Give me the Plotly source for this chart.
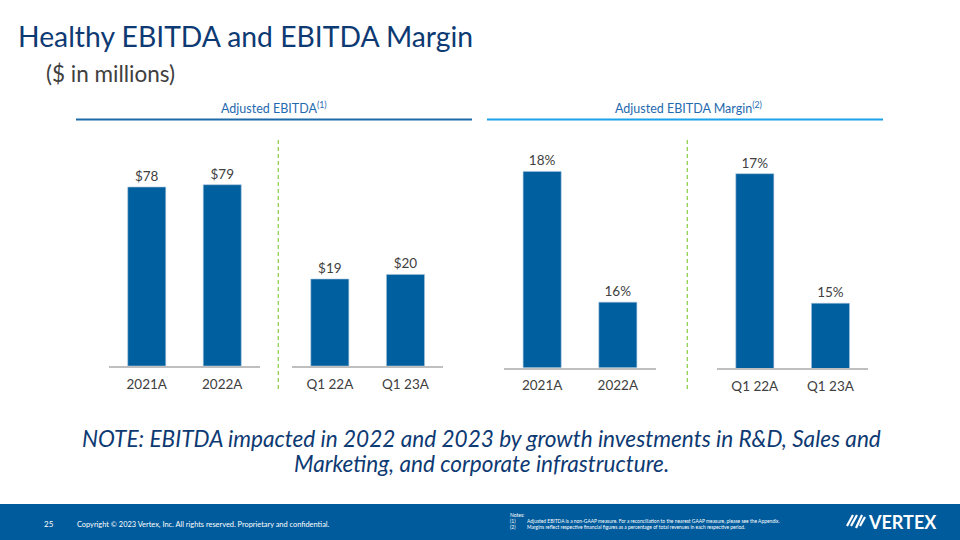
import plotly.graph_objects as go

# ---- data ----
annual_years = ["2021A", "2022A"]
quarters = ["Q1 22A", "Q1 23A"]
ebitda_annual = [78, 79]
ebitda_quarter = [19, 20]
margin_annual = [18, 16]
margin_quarter = [17, 15]

W, H = 960, 540
BAR = "#005F9E"
LABEL = "#404040"
FONT = "Lato"


def px(x):
    return x / W


def py(y):
    return 1 - y / H


fig = go.Figure()

panels = [
    ((109, 260), 366, [0, 98.5], annual_years, ebitda_annual, "${}"),
    ((292, 443.3), 366, [0, 49.35], quarters, ebitda_quarter, "${}"),
    ((504.3, 655.7), 367.5, [15, 18.48], annual_years, margin_annual, "{}%"),
    ((717, 868.3), 368, [14, 17.52], quarters, margin_quarter, "{}%"),
]

layout_axes = {}
for i, (xd, yb, yr, cats, vals, fmt) in enumerate(panels, start=1):
    xa = "x" if i == 1 else f"x{i}"
    ya = "y" if i == 1 else f"y{i}"
    fig.add_trace(go.Bar(
        x=cats, y=vals, xaxis=xa, yaxis=ya,
        marker=dict(color=BAR, line=dict(color="#A9C4DD", width=0.6)),
        text=[fmt.format(v) for v in vals], textposition="outside",
        textfont=dict(family=FONT, size=13.5, color=LABEL),
        cliponaxis=False, showlegend=False, hoverinfo="skip",
    ))
    xkey = "xaxis" if i == 1 else f"xaxis{i}"
    ykey = "yaxis" if i == 1 else f"yaxis{i}"
    layout_axes[xkey] = dict(
        domain=[px(xd[0]), px(xd[1])], anchor=ya, type="category",
        showline=True, linecolor="#BFBFBF", linewidth=1.5,
        showgrid=False, zeroline=False, ticks="", ticklabelstandoff=5,
        tickfont=dict(family=FONT, size=13.5, color=LABEL), fixedrange=True,
    )
    layout_axes[ykey] = dict(
        domain=[py(yb), py(140)], anchor=xa, range=yr, visible=False,
        showgrid=False, zeroline=False, fixedrange=True,
    )

fig.update_layout(**layout_axes)

shapes = [
    dict(type="line", xref="paper", yref="paper", x0=px(76), x1=px(472),
         y0=py(119.5), y1=py(119.5), line=dict(color="#1E6BA8", width=2)),
    dict(type="line", xref="paper", yref="paper", x0=px(487), x1=px(883),
         y0=py(119.5), y1=py(119.5), line=dict(color="#1AA3EA", width=2)),
    dict(type="line", xref="paper", yref="paper", x0=px(278.3), x1=px(278.3),
         y0=py(140), y1=py(391), line=dict(color="#92D050", width=1.3, dash="4px,3px")),
    dict(type="line", xref="paper", yref="paper", x0=px(687.3), x1=px(687.3),
         y0=py(140), y1=py(392), line=dict(color="#92D050", width=1.3, dash="4px,3px")),
    dict(type="rect", xref="paper", yref="paper", x0=0, x1=1, y0=0, y1=py(504),
         line=dict(width=0), fillcolor="#005B9C", layer="below"),
]
for (x0, y0, x1, y1) in [(847, 526, 853, 515), (851, 526, 857, 515),
                         (856, 528, 862, 515), (860, 526, 865, 517)]:
    shapes.append(dict(type="line", xref="paper", yref="paper",
                       x0=px(x0), x1=px(x1), y0=py(y0), y1=py(y1),
                       line=dict(color="white", width=2.2)))


def ann(text, x, y, size, color, xanchor="left", **kw):
    return dict(text=text, x=px(x), y=py(y), xref="paper", yref="paper",
                xanchor=xanchor, yanchor="middle", showarrow=False,
                font=dict(family=FONT, size=size, color=color), **kw)


annotations = [
    ann("Healthy EBITDA and EBITDA Margin", 16, 35.5, 28.3, "#0E3A73"),
    ann("($ in millions)", 44, 73, 22.5, "#404040"),
    ann("Adjusted EBITDA<sup>(1)</sup>", 274, 107, 12.5, "#1F6AAF", xanchor="center"),
    ann("Adjusted EBITDA Margin<sup>(2)</sup>", 688, 107, 12.5, "#1F6AAF", xanchor="center"),
    ann("<i>NOTE: EBITDA impacted in 2022 and 2023 by growth investments in R&D, Sales and</i>",
        481, 438.5, 22.6, "#0E3A73", xanchor="center"),
    ann("<i>Marketing, and corporate infrastructure.</i>",
        481, 463.5, 22.6, "#0E3A73", xanchor="center"),
    ann("25", 42, 524, 8, "white"),
    ann("Copyright © 2023 Vertex, Inc. All rights reserved. Proprietary and confidential.",
        75, 524, 7.4, "white"),
    ann("Notes:", 508, 515, 5, "white"),
    ann("(1)", 508, 521, 5, "white"),
    ann("(2)", 508, 527, 5, "white"),
    ann("Adjusted EBITDA is a non-GAAP measure. For a reconciliation to the nearest GAAP measure, please see the Appendix.",
        525, 521, 4.9, "white"),
    ann("Margins reflect respective financial figures as a percentage of total revenues in each respective period.",
        525, 527, 4.9, "white"),
    ann("<b>VERTEX</b>", 866, 521.5, 18, "white"),
]

fig.update_layout(
    width=W, height=H, margin=dict(l=0, r=0, t=0, b=0),
    paper_bgcolor="white", plot_bgcolor="rgba(0,0,0,0)",
    bargap=0.497, shapes=shapes, annotations=annotations,
    font=dict(family=FONT),
)

fig.write_html("out.html", config={"displayModeBar": False})
